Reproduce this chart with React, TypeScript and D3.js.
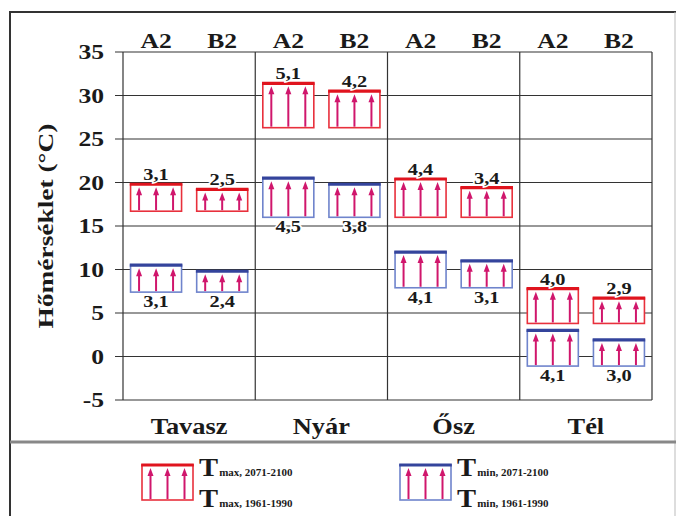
import React from 'react';
import * as d3 from 'd3';

const seasons = ['Tavasz', 'Nyár', 'Ősz', 'Tél'];
const scenarios = ['A2', 'B2'];
const yTicks = [-5, 0, 5, 10, 15, 20, 25, 30, 35];

// baseline 1961-1990 values (box bottoms)
const tmaxBase = [16.7, 26.3, 16.0, 3.8];
const tminBase = [7.4, 16.0, 7.9, -1.1];
// projected change for 2071-2100
const tmaxDeltaA2 = [3.1, 5.1, 4.4, 4.0];
const tmaxDeltaB2 = [2.5, 4.2, 3.4, 2.9];
const tminDeltaA2 = [3.1, 4.5, 4.1, 4.1];
const tminDeltaB2 = [2.4, 3.8, 3.1, 3.0];

const FONT = "'Liberation Serif', 'Times New Roman', serif";
const RED = '#e8303c';
const RED_TOP = '#e0141e';
const BLUE = '#6f84cc';
const BLUE_TOP = '#34449c';
const ARROW = '#d0166c';
const INK = '#1a1a1a';

const fmt = (v: number) => v.toFixed(1).replace('.', ',');

// the source picture is stretched sideways, so text gets a horizontal scale
const SText = ({ x, y, sx = 1.15, size, anchor = 'middle', halo = false, children }: any) => (
  <text transform={`translate(${x},${y}) scale(${sx},1)`} textAnchor={anchor} fontSize={size} fill={INK}
    stroke={halo ? '#fff' : 'none'} strokeWidth={halo ? 3 : 0} paintOrder="stroke">{children}</text>
);

type BoxProps = { x: number; y0: number; y1: number; w: number; kind: 'max' | 'min' };

const Box = ({ x, y0, y1, w, kind }: BoxProps) => {
  const edge = kind === 'max' ? RED : BLUE;
  const top = kind === 'max' ? RED_TOP : BLUE_TOP;
  const arrows = [1 / 6, 1 / 2, 5 / 6].map(f => x + w * f);
  return (
    <g>
      <rect x={x} y={y1} width={w} height={y0 - y1} fill="#fff" stroke={edge} strokeWidth={1.6} />
      {arrows.map((ax, i) => (
        <g key={i}>
          <line x1={ax} x2={ax} y1={y0 - 1} y2={y1 + 8} stroke={ARROW} strokeWidth={2} />
          <path d={`M${ax - 3},${y1 + 11}L${ax},${y1 + 3}L${ax + 3},${y1 + 11}Z`} fill={ARROW} />
        </g>
      ))}
      <line x1={x - 0.8} x2={x + w + 0.8} y1={y1} y2={y1} stroke={top} strokeWidth={3.2} />
    </g>
  );
};

export default function App() {
  const left = 123;
  const right = 652;
  const y = d3.scaleLinear().domain([-5, 35]).range([400, 52]);
  const xs = d3.scaleBand<string>().domain(seasons).range([left, right]);
  const xc = d3.scalePoint<string>().domain(scenarios).range([0, xs.bandwidth()]).padding(0.5);
  const bw = 51;

  const boxes: { key: string; cx: number; base: number; delta: number; kind: 'max' | 'min' }[] = [];
  seasons.forEach((s, i) => {
    const sx = xs(s)!;
    boxes.push({ key: s + 'maxA2', cx: sx + xc('A2')!, base: tmaxBase[i], delta: tmaxDeltaA2[i], kind: 'max' });
    boxes.push({ key: s + 'maxB2', cx: sx + xc('B2')!, base: tmaxBase[i], delta: tmaxDeltaB2[i], kind: 'max' });
    boxes.push({ key: s + 'minA2', cx: sx + xc('A2')!, base: tminBase[i], delta: tminDeltaA2[i], kind: 'min' });
    boxes.push({ key: s + 'minB2', cx: sx + xc('B2')!, base: tminBase[i], delta: tminDeltaB2[i], kind: 'min' });
  });

  return (
    <svg width={676} height={516}
      style={{ position: 'absolute', left: 0, top: 0, background: '#fff', fontFamily: FONT, fontWeight: 'bold' }}>
      {/* outer frame */}
      <line x1={10} x2={676} y1={12} y2={12} stroke="#333" strokeWidth={2} />
      <line x1={10} x2={10} y1={11} y2={516} stroke="#333" strokeWidth={2} />
      <line x1={675} x2={675} y1={12} y2={516} stroke="#bbb" strokeWidth={1} />
      <line x1={10} x2={676} y1={442} y2={442} stroke="#888" strokeWidth={3} />

      {/* gridlines + y ticks */}
      {yTicks.map(t => (
        <g key={t}>
          <line x1={115} x2={right} y1={y(t)} y2={y(t)} stroke="#333" strokeWidth={1.2} />
          <SText x={104} y={y(t) + 7} size={21} sx={1.22} anchor="end">{t}</SText>
        </g>
      ))}
      {/* season dividers */}
      {[...seasons.map(s => xs(s)!), right].map((x, i) => (
        <line key={i} x1={x} x2={x} y1={y(35)} y2={y(-5)} stroke="#333" strokeWidth={1.2} />
      ))}

      {/* scenario headers */}
      {seasons.map(s =>
        scenarios.map(c => (
          <SText key={s + c} x={xs(s)! + xc(c)!} y={48} size={22} sx={1.16}>{c}</SText>
        ))
      )}

      {/* boxes */}
      {boxes.map(b => (
        <Box key={b.key} x={b.cx - bw / 2} y0={y(b.base)} y1={y(b.base + b.delta)} w={bw} kind={b.kind} />
      ))}

      {/* delta labels */}
      {boxes.map(b => {
        const ty = b.kind === 'max' ? y(b.base + b.delta) - 4 : y(b.base) + 15;
        return (
          <SText key={b.key + 'l'} x={b.cx} y={ty} size={17} sx={1.2} halo>{fmt(b.delta)}</SText>
        );
      })}

      {/* season labels */}
      {seasons.map(s => (
        <SText key={s} x={xs(s)! + xs.bandwidth() / 2} y={434} size={24} sx={1.1}>{s}</SText>
      ))}

      {/* y title */}
      <text transform="translate(53,226) rotate(-90)" textAnchor="middle" fontSize={21} fill={INK}
        textLength={205} lengthAdjust="spacingAndGlyphs">Hőmérséklet (°C)</text>

      {/* legend */}
      <Box x={142} y0={500} y1={465} w={51} kind="max" />
      <SText x={199} y={476} size={26} sx={1.1} anchor="start">T<tspan fontSize={10} dx={1}>max, 2071-2100</tspan></SText>
      <SText x={199} y={507} size={26} sx={1.1} anchor="start">T<tspan fontSize={10} dx={1}>max, 1961-1990</tspan></SText>
      <Box x={400} y0={500} y1={465} w={51} kind="min" />
      <SText x={457} y={476} size={26} sx={1.1} anchor="start">T<tspan fontSize={10} dx={1}>min, 2071-2100</tspan></SText>
      <SText x={457} y={507} size={26} sx={1.1} anchor="start">T<tspan fontSize={10} dx={1}>min, 1961-1990</tspan></SText>
    </svg>
  );
}
